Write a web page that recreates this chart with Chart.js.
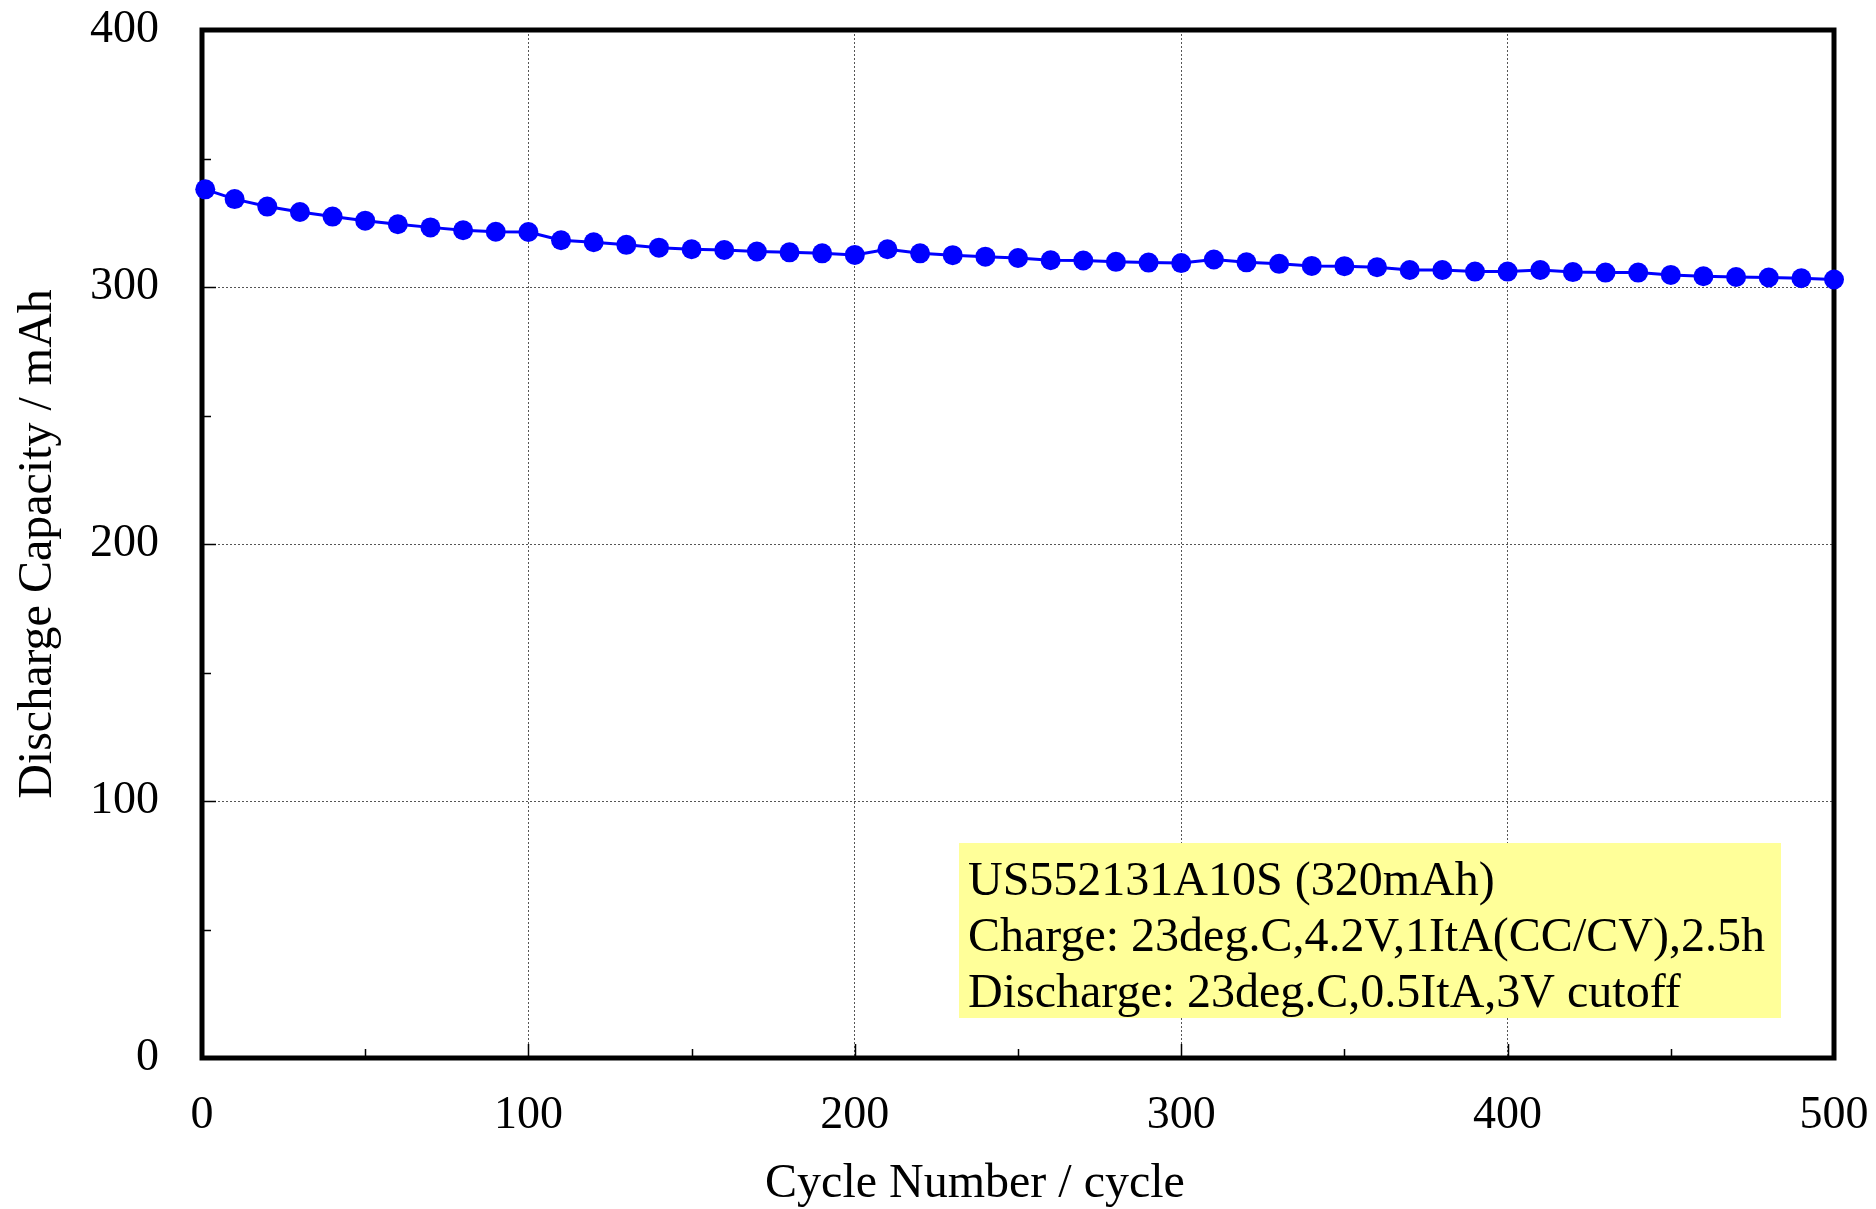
<!DOCTYPE html>
<html>
<head>
<meta charset="utf-8">
<script src="https://cdn.jsdelivr.net/npm/chart.js@4.4.1/dist/chart.umd.min.js"></script>
<style>
  html, body { margin: 0; padding: 0; background: #ffffff; }
  #wrap { width: 1876px; height: 1209px; }
</style>
</head>
<body>
<div id="wrap"><canvas id="c" width="1876" height="1209"></canvas></div>
<script>
// ---- data ----
const cycles = [1, 10, 20, 30, 40, 50, 60, 70, 80, 90,
  100, 110, 120, 130, 140, 150, 160, 170, 180, 190,
  200, 210, 220, 230, 240, 250, 260, 270, 280, 290,
  300, 310, 320, 330, 340, 350, 360, 370, 380, 390,
  400, 410, 420, 430, 440, 450, 460, 470, 480, 490, 500];
const capacity = [338.0, 334.2, 331.3, 329.2, 327.4, 325.8, 324.4, 323.2, 322.1, 321.5,
  321.4, 318.2, 317.4, 316.4, 315.3, 314.7, 314.4, 313.8, 313.5, 313.1,
  312.5, 314.7, 313.1, 312.4, 311.8, 311.3, 310.4, 310.3, 309.8, 309.5,
  309.3, 310.7, 309.6, 309.0, 308.2, 308.1, 307.7, 306.6, 306.6, 306.0,
  306.0, 306.6, 305.8, 305.6, 305.6, 304.7, 304.2, 303.9, 303.7, 303.4, 302.9];
const xTicks = [0, 100, 200, 300, 400, 500];
const yTicks = [0, 100, 200, 300, 400];
const xMinorTicks = [50, 150, 250, 350, 450];
const yMinorTicks = [50, 150, 250, 350];
const xTitle = 'Cycle Number / cycle';
const yTitle = 'Discharge Capacity / mAh';
const noteLines = [
  'US552131A10S (320mAh)',
  'Charge: 23deg.C,4.2V,1ItA(CC/CV),2.5h',
  'Discharge: 23deg.C,0.5ItA,3V cutoff'
];

const FONT = '"Liberation Serif", "Times New Roman", serif';

const framePlugin = {
  id: 'frame',
  beforeDatasetsDraw(chart) {
    const { ctx, chartArea: a, scales } = chart;
    const xs = scales.x, ys = scales.y;
    ctx.save();
    ctx.strokeStyle = '#000';
    ctx.lineWidth = 1.5;
    // inward tick marks
    ctx.beginPath();
    yTicks.forEach(v => { const py = Math.round(ys.getPixelForValue(v)) + 0.5; ctx.moveTo(a.left, py); ctx.lineTo(a.left + 14, py); });
    yMinorTicks.forEach(v => { const py = Math.round(ys.getPixelForValue(v)) + 0.5; ctx.moveTo(a.left, py); ctx.lineTo(a.left + 9, py); });
    xTicks.forEach(v => { const px = Math.round(xs.getPixelForValue(v)) + 0.5; ctx.moveTo(px, a.bottom); ctx.lineTo(px, a.bottom - 14); });
    xMinorTicks.forEach(v => { const px = Math.round(xs.getPixelForValue(v)) + 0.5; ctx.moveTo(px, a.bottom); ctx.lineTo(px, a.bottom - 9); });
    ctx.stroke();
    // thick frame
    ctx.lineWidth = 5;
    ctx.strokeRect(a.left, a.top, a.right - a.left, a.bottom - a.top);
    ctx.restore();
  },
  afterDraw(chart) {
    const { ctx, chartArea: a } = chart;
    ctx.save();
    // annotation box (pixel offsets relative to plot area)
    const bx = a.left + 757, by = a.top + 813, bw = 822, bh = 175;
    ctx.fillStyle = '#ffff99';
    ctx.fillRect(bx, by, bw, bh);
    ctx.fillStyle = '#000';
    ctx.font = '48px ' + FONT;
    ctx.textAlign = 'left';
    ctx.textBaseline = 'alphabetic';
    noteLines.forEach((t, i) => ctx.fillText(t, bx + 9, by + 52 + i * 56));
    // x-axis title (slightly left of plot centre, as in the reference)
    ctx.textAlign = 'center';
    ctx.fillText(xTitle, a.left + 773, a.bottom + 139);
    ctx.restore();
  }
};

const tickFont = { family: FONT, size: 46 };
const titleFont = { family: FONT, size: 48 };

new Chart(document.getElementById('c'), {
  type: 'line',
  data: {
    datasets: [{
      data: cycles.map((c, i) => ({ x: c, y: capacity[i] })),
      borderColor: '#0000ff',
      backgroundColor: '#0000ff',
      borderWidth: 3,
      pointRadius: 10,
      pointHoverRadius: 10,
      pointBorderWidth: 0,
      pointBackgroundColor: '#0000ff',
      tension: 0,
      clip: false
    }]
  },
  options: {
    responsive: false,
    animation: false,
    devicePixelRatio: 1,
    layout: { padding: { left: 0, right: 42, top: 30, bottom: 0 } },
    plugins: { legend: { display: false }, tooltip: { enabled: false } },
    events: [],
    scales: {
      x: {
        type: 'linear', min: 0, max: 500,
        afterBuildTicks(s) { s.ticks = xTicks.map(v => ({ value: v })); },
        ticks: { font: tickFont, color: '#000', padding: 30, maxRotation: 0, autoSkip: false },
        grid: { color: '#555', lineWidth: 1, drawTicks: false },
        border: { display: false, dash: [2, 2] },
        title: { display: false },
        afterFit(s) { s.height = 151; s.paddingLeft = 0; s.paddingRight = 0; }
      },
      y: {
        type: 'linear', min: 0, max: 400,
        afterBuildTicks(s) { s.ticks = yTicks.map(v => ({ value: v })); },
        ticks: { font: tickFont, color: '#000', padding: 43, autoSkip: false },
        grid: { color: '#555', lineWidth: 1, drawTicks: false },
        border: { display: false, dash: [2, 2] },
        title: { display: true, text: yTitle, font: titleFont, color: '#000', padding: { top: 10, bottom: 0 } },
        afterFit(s) { s.width = 202; s.paddingTop = 0; s.paddingBottom = 0; }
      }
    }
  },
  plugins: [framePlugin]
});
</script>
</body>
</html>
